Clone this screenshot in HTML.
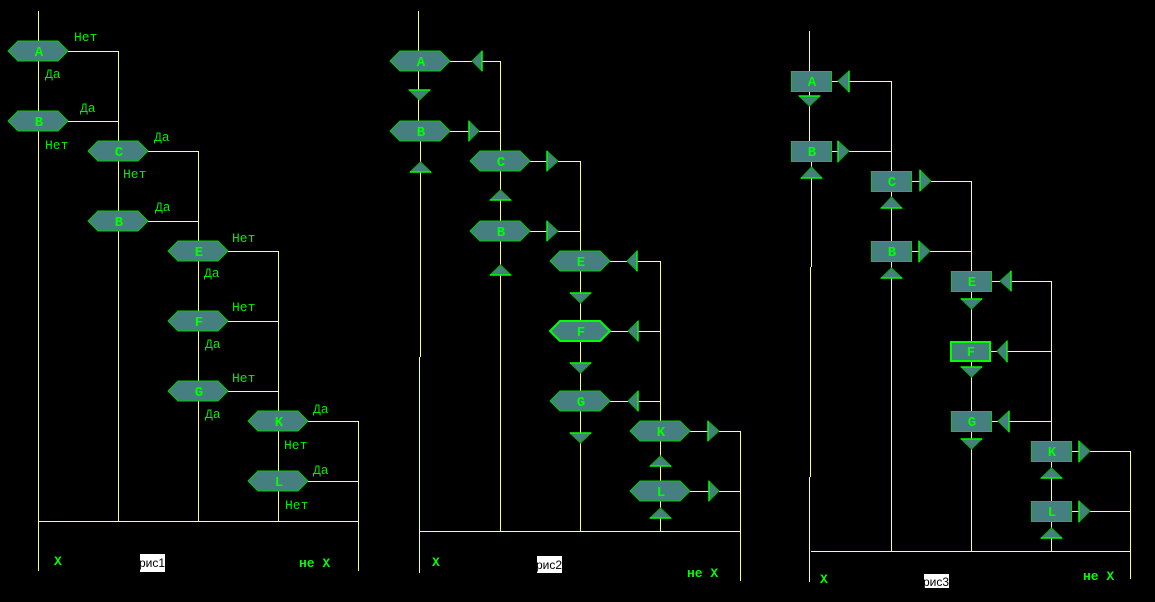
<!DOCTYPE html>
<html><head><meta charset="utf-8"><style>
html,body{margin:0;padding:0;background:#000;}
svg{display:block;}
.l{stroke:#ffff80;stroke-width:1;fill:none;shape-rendering:crispEdges;}
.n{fill:#457f7f;stroke:#00d000;stroke-width:1;}
.nf{fill:#457f7f;stroke:#00ff00;stroke-width:2;}
.t{fill:#457f7f;stroke:#00b000;stroke-width:1;}
.b{stroke:#00ff00;stroke-width:1.5;}
.nl{font-family:"Liberation Mono",monospace;font-weight:bold;font-size:14px;fill:#00ff00;text-anchor:middle;}
.lb{font-family:"Liberation Mono",monospace;font-size:13px;fill:#00f000;}
.xb{font-family:"Liberation Mono",monospace;font-weight:bold;font-size:13px;fill:#00ff00;}
.cap{font-family:"Liberation Sans",sans-serif;font-size:12px;fill:#000;}
</style></head><body>
<svg width="1155" height="602" viewBox="0 0 1155 602" xmlns="http://www.w3.org/2000/svg">
<rect width="1155" height="602" fill="#000"/>
<defs>
<clipPath id="c1"><rect x="140" y="554" width="25" height="18"/></clipPath>
<clipPath id="c2"><rect x="537" y="556" width="25" height="17"/></clipPath>
<clipPath id="c3"><rect x="924" y="574" width="25" height="14"/></clipPath>
</defs>

<!-- ============ Diagram 1 ============ -->
<g class="l">
<path d="M38.5 11V571"/>
<path d="M68 51.5H118.5V521"/>
<path d="M68 121.5H118.5"/>
<path d="M148 151.5H198.5V521"/>
<path d="M148 221.5H198.5"/>
<path d="M228 251.5H278.5V521"/>
<path d="M228 321.5H278.5"/>
<path d="M228 391.5H278.5"/>
<path d="M308 421.5H358.5V571"/>
<path d="M308 481.5H358.5"/>
<path d="M38 521.5H359"/>
</g>
<g>
<polygon class="n" points="8,51 18,41 58,41 68,51 58,61 18,61"/>
<polygon class="n" points="8,121 18,111 58,111 68,121 58,131 18,131"/>
<polygon class="n" points="88,151 98,141 138,141 148,151 138,161 98,161"/>
<polygon class="n" points="88,221 98,211 138,211 148,221 138,231 98,231"/>
<polygon class="n" points="168,251 178,241 218,241 228,251 218,261 178,261"/>
<polygon class="n" points="168,321 178,311 218,311 228,321 218,331 178,331"/>
<polygon class="n" points="168,391 178,381 218,381 228,391 218,401 178,401"/>
<polygon class="n" points="248,421 258,411 298,411 308,421 298,431 258,431"/>
<polygon class="n" points="248,481 258,471 298,471 308,481 298,491 258,491"/>
</g>
<g class="nl">
<text x="39" y="56">A</text>
<text x="39" y="126">B</text>
<text x="119" y="156">C</text>
<text x="119" y="226">B</text>
<text x="199" y="256">E</text>
<text x="199" y="326">F</text>
<text x="199" y="396">G</text>
<text x="279" y="426">K</text>
<text x="279" y="486">L</text>
</g>
<g class="lb">
<text x="74" y="41">Нет</text>
<text x="45" y="78">Да</text>
<text x="80" y="112">Да</text>
<text x="45" y="149">Нет</text>
<text x="154" y="141">Да</text>
<text x="123" y="178">Нет</text>
<text x="155" y="211">Да</text>
<text x="232" y="242">Нет</text>
<text x="204" y="277">Да</text>
<text x="232" y="311">Нет</text>
<text x="205" y="348">Да</text>
<text x="232" y="382">Нет</text>
<text x="205" y="418">Да</text>
<text x="313" y="413">Да</text>
<text x="284" y="449">Нет</text>
<text x="313" y="474">Да</text>
<text x="285" y="509">Нет</text>
</g>
<text class="xb" x="54" y="565">X</text>
<text class="xb" x="299" y="567">не X</text>
<rect x="140" y="554" width="25" height="18" fill="#fff"/>
<text class="cap" x="139" y="567" clip-path="url(#c1)">рис1</text>

<!-- ============ Diagram 2 ============ -->
<g class="l">
<path d="M418.5 11V121"/>
<path d="M420.5 141V357"/>
<path d="M419.5 357V573"/>
<path d="M450 61.5H472M482 61.5H500.5V531"/>
<path d="M450 131.5H469M479 131.5H500.5"/>
<path d="M530 161.5H547M558 161.5H580.5V531"/>
<path d="M530 231.5H547M558 231.5H580.5"/>
<path d="M610 261.5H627M637 261.5H660.5V531"/>
<path d="M610 331.5H628M638 331.5H660.5"/>
<path d="M610 401.5H628M638 401.5H660.5"/>
<path d="M690 431.5H708M719 431.5H740.5V581"/>
<path d="M690 491.5H709M719 491.5H740.5"/>
<path d="M419 531.5H741"/>
</g>
<g>
<polygon class="n" points="390,61 400,51 440,51 450,61 440,71 400,71"/>
<polygon class="n" points="390,131 400,121 440,121 450,131 440,141 400,141"/>
<polygon class="n" points="470,161 480,151 520,151 530,161 520,171 480,171"/>
<polygon class="n" points="470,231 480,221 520,221 530,231 520,241 480,241"/>
<polygon class="n" points="550,261 560,251 600,251 610,261 600,271 560,271"/>
<polygon class="nf" points="550,331 560,321 600,321 610,331 600,341 560,341"/>
<polygon class="n" points="550,401 560,391 600,391 610,401 600,411 560,411"/>
<polygon class="n" points="630,431 640,421 680,421 690,431 680,441 640,441"/>
<polygon class="n" points="630,491 640,481 680,481 690,491 680,501 640,501"/>
</g>
<g>
<polygon class="t" points="472,61 482,51 482,71"/><path class="b" d="M482 51V71"/>
<polygon class="t" points="627,261 637,251 637,271"/><path class="b" d="M637 251V271"/>
<polygon class="t" points="628,331 638,321 638,341"/><path class="b" d="M638 321V341"/>
<polygon class="t" points="628,401 638,391 638,411"/><path class="b" d="M638 391V411"/>
<polygon class="t" points="469,121 479,131 469,141"/><path class="b" d="M469 121V141"/>
<polygon class="t" points="547,151 558,161 547,171"/><path class="b" d="M547 151V171"/>
<polygon class="t" points="547,221 558,231 547,241"/><path class="b" d="M547 221V241"/>
<polygon class="t" points="708,421 719,431 708,441"/><path class="b" d="M708 421V441"/>
<polygon class="t" points="709,481 719,491 709,501"/><path class="b" d="M709 481V501"/>
<polygon class="t" points="409,90 430,90 419.5,100"/><path class="b" d="M409 90H430"/>
<polygon class="t" points="570,293 591,293 580.5,303"/><path class="b" d="M570 293H591"/>
<polygon class="t" points="570,363 591,363 580.5,373"/><path class="b" d="M570 363H591"/>
<polygon class="t" points="570,433 591,433 580.5,443"/><path class="b" d="M570 433H591"/>
<polygon class="t" points="410,172 431,172 420.5,162"/><path class="b" d="M410 172H431"/>
<polygon class="t" points="490,200 511,200 500.5,190"/><path class="b" d="M490 200H511"/>
<polygon class="t" points="490,275 511,275 500.5,265"/><path class="b" d="M490 275H511"/>
<polygon class="t" points="650,466 671,466 660.5,456"/><path class="b" d="M650 466H671"/>
<polygon class="t" points="650,518 671,518 660.5,508"/><path class="b" d="M650 518H671"/>
</g>
<g class="nl">
<text x="421" y="66">A</text>
<text x="421" y="136">B</text>
<text x="501" y="166">C</text>
<text x="501" y="236">B</text>
<text x="581" y="266">E</text>
<text x="581" y="336">F</text>
<text x="581" y="406">G</text>
<text x="661" y="436">K</text>
<text x="661" y="496">L</text>
</g>
<text class="xb" x="432" y="566">X</text>
<text class="xb" x="687" y="577">не X</text>
<rect x="537" y="556" width="25" height="17" fill="#fff"/>
<text class="cap" x="536" y="569" clip-path="url(#c2)">рис2</text>

<!-- ============ Diagram 3 ============ -->
<g class="l">
<path d="M809.5 31V71M809.5 91V141"/>
<path d="M811.5 161V267"/>
<path d="M810.5 267V477"/>
<path d="M809.5 477V582"/>
<path d="M831 81.5H838M849 81.5H891.5V551"/>
<path d="M831 151.5H838M849 151.5H891.5"/>
<path d="M911 181.5H920M931 181.5H971.5V551"/>
<path d="M911 251.5H919M930 251.5H971.5"/>
<path d="M991 281.5H1000M1011 281.5H1051.5V551"/>
<path d="M990 351.5H997M1007 351.5H1051.5"/>
<path d="M991 421.5H998M1009 421.5H1051.5"/>
<path d="M1071 451.5H1079M1090 451.5H1130.5V579"/>
<path d="M1071 511.5H1079M1090 511.5H1130.5"/>
<path d="M811 551.5H1131"/>
</g>
<g>
<rect class="n" x="791.5" y="71.5" width="40" height="20"/>
<rect class="n" x="791.5" y="141.5" width="40" height="20"/>
<rect class="n" x="871.5" y="171.5" width="40" height="20"/>
<rect class="n" x="871.5" y="241.5" width="40" height="20"/>
<rect class="n" x="951.5" y="271.5" width="40" height="20"/>
<rect class="nf" x="951" y="342" width="39" height="19"/>
<rect class="n" x="951.5" y="411.5" width="40" height="20"/>
<rect class="n" x="1031.5" y="441.5" width="40" height="20"/>
<rect class="n" x="1031.5" y="501.5" width="40" height="20"/>
</g>
<g>
<polygon class="t" points="838,81 849,71 849,92"/><path class="b" d="M849 71V92"/>
<polygon class="t" points="1000,281 1011,271 1011,291"/><path class="b" d="M1011 271V291"/>
<polygon class="t" points="997,351 1007,341 1007,362"/><path class="b" d="M1007 341V362"/>
<polygon class="t" points="998,421 1009,411 1009,432"/><path class="b" d="M1009 411V432"/>
<polygon class="t" points="838,141 849,151 838,162"/><path class="b" d="M838 141V162"/>
<polygon class="t" points="920,170 931,181 920,191"/><path class="b" d="M920 170V191"/>
<polygon class="t" points="919,241 930,251 919,262"/><path class="b" d="M919 241V262"/>
<polygon class="t" points="1079,441 1090,451 1079,462"/><path class="b" d="M1079 441V462"/>
<polygon class="t" points="1079,501 1090,511 1079,522"/><path class="b" d="M1079 501V522"/>
<polygon class="t" points="799,96 820,96 809.5,106"/><path class="b" d="M799 96H820"/>
<polygon class="t" points="961,299 982,299 971.5,309"/><path class="b" d="M961 299H982"/>
<polygon class="t" points="961,367 982,367 971.5,377"/><path class="b" d="M961 367H982"/>
<polygon class="t" points="961,439 982,439 971.5,449"/><path class="b" d="M961 439H982"/>
<polygon class="t" points="801,178 822,178 811.5,167"/><path class="b" d="M801 178H822"/>
<polygon class="t" points="881,208 902,208 891.5,197"/><path class="b" d="M881 208H902"/>
<polygon class="t" points="881,278 902,278 891.5,268"/><path class="b" d="M881 278H902"/>
<polygon class="t" points="1041,478 1062,478 1051.5,468"/><path class="b" d="M1041 478H1062"/>
<polygon class="t" points="1041,538 1062,538 1051.5,528"/><path class="b" d="M1041 538H1062"/>
</g>
<g class="nl">
<text x="812" y="86">A</text>
<text x="812" y="156">B</text>
<text x="892" y="186">C</text>
<text x="892" y="256">B</text>
<text x="972" y="286">E</text>
<text x="971" y="356">F</text>
<text x="972" y="426">G</text>
<text x="1052" y="456">K</text>
<text x="1052" y="516">L</text>
</g>
<text class="xb" x="820" y="583">X</text>
<text class="xb" x="1083" y="580">не X</text>
<rect x="924" y="574" width="25" height="14" fill="#fff"/>
<text class="cap" x="923" y="586" clip-path="url(#c3)">рис3</text>
</svg>
</body></html>
